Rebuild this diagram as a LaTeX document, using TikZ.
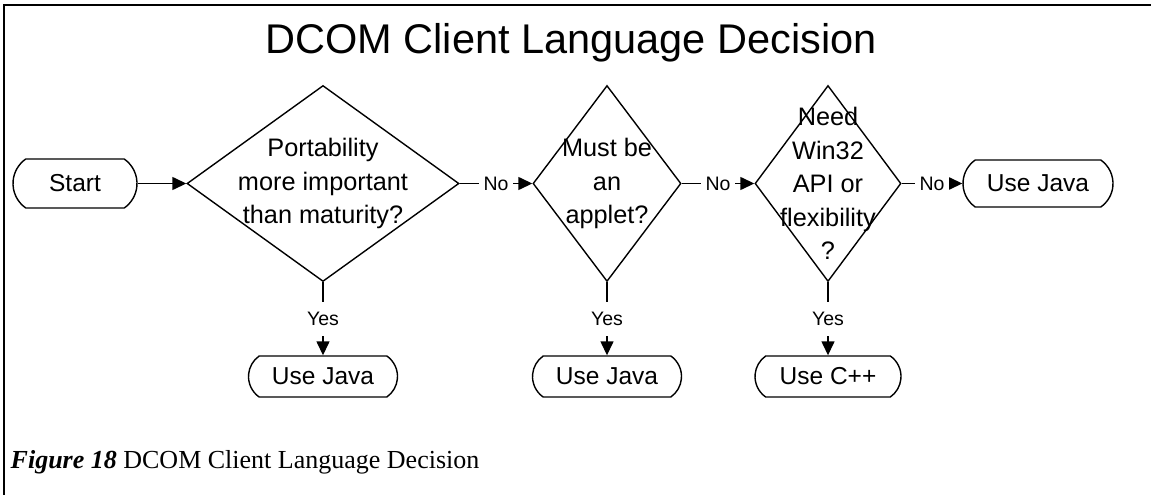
\documentclass[tikz,border=0pt]{standalone}
\usepackage{fontspec}
\setmainfont{Liberation Sans}
\newfontfamily\capfont{Liberation Serif}
\usetikzlibrary{shapes.geometric,shapes.misc,arrows.meta}
\begin{document}
\begin{tikzpicture}[x=1pt,y=-1pt,
  line width=1.4pt,
  term/.style={draw, rounded rectangle, rounded rectangle arc length=110, inner sep=0pt,
    font=\fontsize{24.5}{29}\selectfont},
  dia/.style={draw, diamond, inner sep=0pt},
  dtext/.style={align=center, inner sep=0pt, font=\fontsize{25.3}{33.5}\selectfont},
  lab/.style={fill=white, inner xsep=5pt, inner ysep=10pt, font=\fontsize{19.5}{22}\selectfont},
  arr/.style={-{Triangle[length=14pt,width=13pt]}}]
\useasboundingbox (0,0) rectangle (1151,495);
\draw[line width=2pt] (4,495) -- (4,5) -- (1151,5);
\node[font=\fontsize{41.5}{48}\selectfont] (title) at (571,43) {DCOM Client Language Decision};
\node[term, minimum width=124pt, minimum height=49pt] (start) at (75,183.5) {Start};
\node[dia, minimum width=272pt, minimum height=196pt] (d1) at (323,183.5) {};
\node[dtext] (t1) at (d1) {Portability\\more important\\than maturity?};
\node[dia, minimum width=148pt, minimum height=196pt] (d2) at (607,183.5) {};
\node[dtext] (t2) at (d2) {Must be\\an\\applet?};
\node[dia, minimum width=146pt, minimum height=196pt] (d3) at (828,183.5) {};
\node[dtext] (t3) at (d3) {Need\\Win32\\API or\\flexibility\\?};
\node[term, minimum width=150pt, minimum height=47pt] (j4) at (1038,183.5) {Use Java};
\node[term, minimum width=149pt, minimum height=41pt] (j1) at (323,376.5) {Use Java};
\node[term, minimum width=149pt, minimum height=41pt] (j2) at (607,376.5) {Use Java};
\node[term, minimum width=146pt, minimum height=41pt] (j3) at (828,376.5) {Use C++};
\draw[arr] (start.east) -- (d1.west);
\draw[arr] (d1.east) -- node[lab] {No} (d2.west);
\draw[arr] (d2.east) -- node[lab] {No} (d3.west);
\draw[arr] (d3.east) -- node[lab] {No} (j4.west);
\draw[arr] (d1.south) -- node[lab] {Yes} (j1.north);
\draw[arr] (d2.south) -- node[lab] {Yes} (j2.north);
\draw[arr] (d3.south) -- node[lab] {Yes} (j3.north);
\node[anchor=base west, inner sep=0pt, font=\capfont\fontsize{26}{31}\selectfont] (cap) at (10,468)
  {\textbf{\textit{Figure 18}} DCOM Client Language Decision};
\end{tikzpicture}
\end{document}
